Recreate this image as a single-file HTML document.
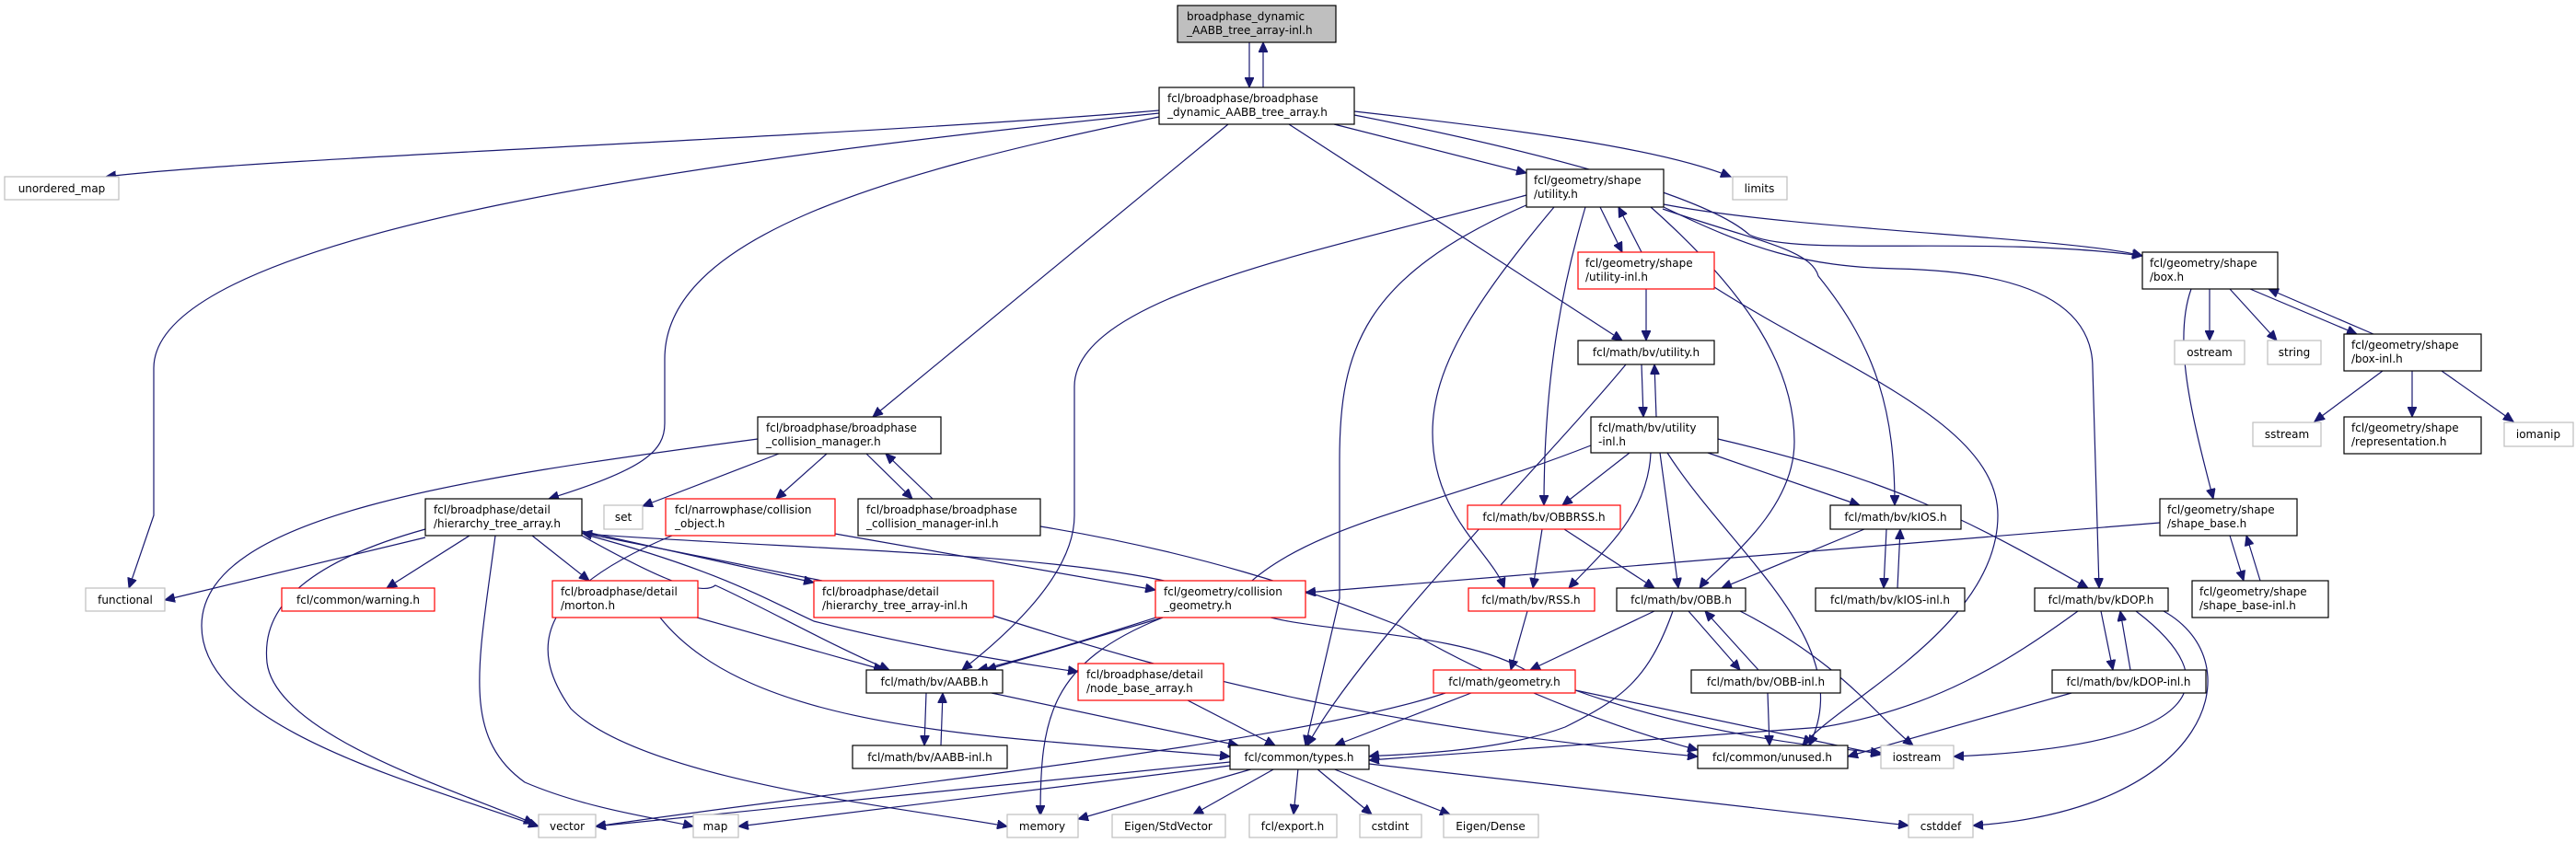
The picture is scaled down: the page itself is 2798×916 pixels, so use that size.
<!DOCTYPE html>
<html><head><meta charset="utf-8"><style>
html,body{margin:0;padding:0;background:#fff;}
svg{display:block;}
text{font-family:"DejaVu Sans","Liberation Sans",sans-serif;font-size:12px;fill:#000;}
.e{fill:none;stroke:#191970;stroke-width:1.2;marker-end:url(#a);}
.n{fill:#fff;stroke:#000;stroke-width:1.2;}
.r{fill:#fff;stroke:#ff0000;stroke-width:1.2;}
.g{fill:#fff;stroke:#bfbfbf;stroke-width:1.2;}
</style></head><body>
<svg width="2798" height="916" viewBox="0 0 2798 916" xmlns="http://www.w3.org/2000/svg">
<defs><marker id="a" markerUnits="userSpaceOnUse" markerWidth="12" markerHeight="10" refX="11" refY="5" orient="auto"><path d="M0,0 L11,5 L0,10 z" fill="#191970" stroke="#191970"/></marker></defs>

<!-- edges -->
<path class="e" d="M1357,46 L1357,95"/>
<path class="e" d="M1372,95 L1372,46"/>
<path class="e" d="M1259,120 C900,150 300,170 115,192"/>
<path class="e" d="M1259,123 C800,170 167,250 167,400 L167,560 L140,639"/>
<path class="e" d="M1259,127 C950,190 722,260 722,390 L722,460 C722,490 700,510 596,542"/>
<path class="e" d="M1334,135 L948,453"/>
<path class="e" d="M1400,135 L1762,370"/>
<path class="e" d="M1449,135 L1658,188"/>
<path class="e" d="M1471,121 C1640,140 1800,160 1880,192"/>
<path class="e" d="M1471,125 C1650,160 1850,210 1900,255 C1950,280 2150,255 2327,278"/>

<path class="e" d="M1658,212 C1450,270 1167,320 1167,420 L1167,560 C1167,630 1080,700 1045,728"/>
<path class="e" d="M1660,222 C1480,300 1455,380 1455,500 L1455,650 L1418,810"/>
<path class="e" d="M1722,225 C1700,300 1677,400 1677,549"/>
<path class="e" d="M1688,225 C1600,330 1556,400 1556,470 C1556,560 1620,600 1634,639"/>
<path class="e" d="M1738,225 L1762,274"/>
<path class="e" d="M1783,274 L1758,225"/>
<path class="e" d="M1793,225 C1900,320 1949,400 1949,480 C1949,560 1860,620 1846,639"/>
<path class="e" d="M1806,227 C1900,260 1967,270 1975,300 C2040,380 2058,450 2058,549"/>
<path class="e" d="M1807,225 C1900,270 1960,290 2060,292 C2200,295 2273,330 2273,400 L2280,639"/>
<path class="e" d="M1807,222 C1950,250 2250,258 2327,278"/>
<path class="e" d="M1862,312 C2000,400 2170,460 2170,560 C2170,680 2000,760 1958,810"/>
<path class="e" d="M1788,314 L1788,370"/>
<path class="e" d="M1783,396 L1785,453"/>
<path class="e" d="M1799,453 L1797,396"/>
<path class="e" d="M1766,396 C1680,500 1480,700 1420,810"/>

<path class="e" d="M1728,484 C1560,550 1420,570 1350,640 C1200,690 1100,720 1062,728"/>
<path class="e" d="M1770,492 L1697,549"/>
<path class="e" d="M1793,492 C1790,560 1740,600 1704,639"/>
<path class="e" d="M1803,492 L1823,639"/>
<path class="e" d="M1811,492 C1880,600 2020,700 1965,810"/>
<path class="e" d="M1855,492 L2020,549"/>
<path class="e" d="M1866,477 C2050,520 2130,560 2268,639"/>
<path class="e" d="M1675,575 L1665,639"/>
<path class="e" d="M1699,575 L1797,639"/>
<path class="e" d="M2025,575 L1870,639"/>
<path class="e" d="M2049,575 L2046,639"/>
<path class="e" d="M2061,639 L2064,575"/>
<path class="e" d="M2346,568 L1418,644"/>
<path class="e" d="M2422,582 L2437,631"/>
<path class="e" d="M2455,631 L2440,582"/>
<path class="e" d="M2380,314 C2360,370 2380,450 2404,542"/>
<path class="e" d="M2400,314 L2400,370"/>
<path class="e" d="M2422,314 L2473,370"/>
<path class="e" d="M2444,314 L2560,363"/>
<path class="e" d="M2578,363 L2464,314"/>
<path class="e" d="M2588,403 L2514,458"/>
<path class="e" d="M2620,403 L2620,453"/>
<path class="e" d="M2652,403 L2730,458"/>

<path class="e" d="M1797,664 L1662,728"/>
<path class="e" d="M1834,664 L1890,728"/>
<path class="e" d="M1910,728 L1852,664"/>
<path class="e" d="M1817,664 C1790,740 1760,760 1700,790 C1620,820 1500,820 1487,822"/>
<path class="e" d="M1890,664 C2000,720 2040,780 2078,810"/>
<path class="e" d="M1659,664 L1641,728"/>
<path class="e" d="M1598,753 L1450,810"/>
<path class="e" d="M1570,753 C1400,810 900,860 647,898"/>
<path class="e" d="M1711,750 L2043,820"/>
<path class="e" d="M1920,753 L1922,810"/>
<path class="e" d="M2282,664 L2295,728"/>
<path class="e" d="M2314,728 L2303,664"/>
<path class="e" d="M2257,664 C2180,720 2100,770 1980,790 L1487,826"/>
<path class="e" d="M2320,664 C2420,740 2400,810 2122,822"/>
<path class="e" d="M2350,664 C2450,720 2400,880 2143,897"/>
<path class="e" d="M2250,753 L2007,822"/>

<path class="e" d="M1336,828 L647,898"/>
<path class="e" d="M1336,832 L802,898"/>
<path class="e" d="M1362,835 L1171,890"/>
<path class="e" d="M1385,835 L1296,885"/>
<path class="e" d="M1410,835 L1405,885"/>
<path class="e" d="M1430,835 L1490,885"/>
<path class="e" d="M1447,835 L1575,885"/>
<path class="e" d="M1487,830 L2073,897"/>

<path class="e" d="M1077,753 L1345,810"/>
<path class="e" d="M1006,753 L1004,810"/>
<path class="e" d="M1022,810 L1024,753"/>
<path class="e" d="M1290,761 L1385,810"/>
<path class="e" d="M757,671 L960,728"/>
<path class="e" d="M717,671 C820,800 1100,800 1336,822"/>
<path class="e" d="M1079,669 C1300,740 1500,790 1844,822"/>

<path class="e" d="M462,584 L179,652"/>
<path class="e" d="M462,575 C300,620 286,680 290,720 C300,800 500,860 580,895"/>
<path class="e" d="M510,582 L420,639"/>
<path class="e" d="M538,582 C520,720 500,800 570,850 C640,880 720,890 753,898"/>
<path class="e" d="M578,582 L640,631"/>
<path class="e" d="M632,582 C700,620 760,650 777,636 C830,660 900,700 966,728"/>
<path class="e" d="M632,577 L884,633"/>
<path class="e" d="M893,631 L632,579"/>
<path class="e" d="M640,582 C780,620 830,650 884,675 C980,700 1100,720 1171,730"/>
<path class="e" d="M634,580 C900,600 1250,600 1350,660 C1400,690 1580,680 1660,730 C1800,790 1950,810 2043,818"/>
<path class="e" d="M823,477 C500,520 219,560 219,680 C219,790 450,850 585,898"/>
<path class="e" d="M846,493 L698,550"/>
<path class="e" d="M898,493 L843,542"/>
<path class="e" d="M941,493 L991,542"/>
<path class="e" d="M1013,542 L962,493"/>
<path class="e" d="M730,582 C590,640 570,700 620,770 C700,850 1000,880 1094,898"/>
<path class="e" d="M907,580 L1255,641"/>
<path class="e" d="M1130,572 C1300,600 1420,640 1520,680 C1620,740 1750,790 1844,815"/>
<path class="e" d="M1263,671 L1071,728"/>
<path class="e" d="M1263,671 C1140,720 1130,780 1130,886"/>

<!-- nodes -->
<rect x="1279" y="6" width="172" height="40" fill="#bfbfbf" stroke="#000" stroke-width="1.2"/>
<text x="1289" y="22">broadphase_dynamic</text><text x="1289" y="37">_AABB_tree_array-inl.h</text>

<rect class="n" x="1259" y="95" width="212" height="40"/>
<text x="1268" y="111">fcl/broadphase/broadphase</text><text x="1268" y="126">_dynamic_AABB_tree_array.h</text>

<rect class="g" x="5" y="192" width="124" height="25"/><text x="67" y="209" text-anchor="middle">unordered_map</text>
<rect class="g" x="1882" y="192" width="59" height="25"/><text x="1911" y="209" text-anchor="middle">limits</text>

<rect class="n" x="1658" y="184" width="149" height="41"/>
<text x="1666" y="200">fcl/geometry/shape</text><text x="1666" y="215">/utility.h</text>

<rect class="r" x="1714" y="274" width="148" height="40"/>
<text x="1722" y="290">fcl/geometry/shape</text><text x="1722" y="305">/utility-inl.h</text>

<rect class="n" x="2327" y="274" width="147" height="40"/>
<text x="2335" y="290">fcl/geometry/shape</text><text x="2335" y="305">/box.h</text>

<rect class="n" x="1714" y="370" width="148" height="26"/><text x="1788" y="387" text-anchor="middle">fcl/math/bv/utility.h</text>
<rect class="g" x="2362" y="370" width="76" height="26"/><text x="2400" y="387" text-anchor="middle">ostream</text>
<rect class="g" x="2463" y="370" width="58" height="26"/><text x="2492" y="387" text-anchor="middle">string</text>

<rect class="n" x="2546" y="363" width="149" height="40"/>
<text x="2554" y="379">fcl/geometry/shape</text><text x="2554" y="394">/box-inl.h</text>

<rect class="n" x="823" y="453" width="199" height="40"/>
<text x="832" y="469">fcl/broadphase/broadphase</text><text x="832" y="484">_collision_manager.h</text>

<rect class="n" x="1728" y="453" width="138" height="39"/>
<text x="1736" y="469">fcl/math/bv/utility</text><text x="1736" y="484">-inl.h</text>

<rect class="g" x="2447" y="459" width="74" height="26"/><text x="2484" y="476" text-anchor="middle">sstream</text>
<rect class="n" x="2546" y="453" width="149" height="40"/>
<text x="2554" y="469">fcl/geometry/shape</text><text x="2554" y="484">/representation.h</text>
<rect class="g" x="2720" y="459" width="75" height="26"/><text x="2757" y="476" text-anchor="middle">iomanip</text>

<rect class="n" x="462" y="542" width="170" height="40"/>
<text x="471" y="558">fcl/broadphase/detail</text><text x="471" y="573">/hierarchy_tree_array.h</text>
<rect class="g" x="656" y="549" width="42" height="26"/><text x="677" y="566" text-anchor="middle">set</text>
<rect class="r" x="723" y="542" width="184" height="40"/>
<text x="733" y="558">fcl/narrowphase/collision</text><text x="733" y="573">_object.h</text>
<rect class="n" x="932" y="542" width="198" height="40"/>
<text x="941" y="558">fcl/broadphase/broadphase</text><text x="941" y="573">_collision_manager-inl.h</text>

<rect class="r" x="1594" y="549" width="166" height="26"/><text x="1677" y="566" text-anchor="middle">fcl/math/bv/OBBRSS.h</text>
<rect class="n" x="1988" y="549" width="142" height="26"/><text x="2059" y="566" text-anchor="middle">fcl/math/bv/kIOS.h</text>
<rect class="n" x="2346" y="542" width="149" height="40"/>
<text x="2354" y="558">fcl/geometry/shape</text><text x="2354" y="573">/shape_base.h</text>

<rect class="g" x="93" y="639" width="86" height="25"/><text x="136" y="656" text-anchor="middle">functional</text>
<rect class="r" x="306" y="639" width="166" height="25"/><text x="389" y="656" text-anchor="middle">fcl/common/warning.h</text>
<rect class="r" x="600" y="631" width="158" height="40"/>
<text x="609" y="647">fcl/broadphase/detail</text><text x="609" y="662">/morton.h</text>
<rect class="r" x="884" y="631" width="195" height="40"/>
<text x="893" y="647">fcl/broadphase/detail</text><text x="893" y="662">/hierarchy_tree_array-inl.h</text>
<rect class="r" x="1255" y="631" width="163" height="40"/>
<text x="1264" y="647">fcl/geometry/collision</text><text x="1264" y="662">_geometry.h</text>

<rect class="r" x="1595" y="639" width="137" height="25"/><text x="1663" y="656" text-anchor="middle">fcl/math/bv/RSS.h</text>
<rect class="n" x="1756" y="639" width="140" height="25"/><text x="1826" y="656" text-anchor="middle">fcl/math/bv/OBB.h</text>
<rect class="n" x="1972" y="639" width="162" height="25"/><text x="2053" y="656" text-anchor="middle">fcl/math/bv/kIOS-inl.h</text>
<rect class="n" x="2210" y="639" width="145" height="25"/><text x="2282" y="656" text-anchor="middle">fcl/math/bv/kDOP.h</text>
<rect class="n" x="2381" y="631" width="148" height="40"/>
<text x="2389" y="647">fcl/geometry/shape</text><text x="2389" y="662">/shape_base-inl.h</text>

<rect class="n" x="941" y="728" width="148" height="25"/><text x="1015" y="745" text-anchor="middle">fcl/math/bv/AABB.h</text>
<rect class="r" x="1171" y="721" width="158" height="40"/>
<text x="1180" y="737">fcl/broadphase/detail</text><text x="1180" y="752">/node_base_array.h</text>
<rect class="r" x="1557" y="728" width="154" height="25"/><text x="1634" y="745" text-anchor="middle">fcl/math/geometry.h</text>
<rect class="n" x="1837" y="728" width="162" height="25"/><text x="1918" y="745" text-anchor="middle">fcl/math/bv/OBB-inl.h</text>
<rect class="n" x="2229" y="728" width="167" height="25"/><text x="2312" y="745" text-anchor="middle">fcl/math/bv/kDOP-inl.h</text>

<rect class="n" x="926" y="810" width="168" height="25"/><text x="1010" y="827" text-anchor="middle">fcl/math/bv/AABB-inl.h</text>
<rect class="n" x="1336" y="810" width="151" height="26"/><text x="1411" y="827" text-anchor="middle">fcl/common/types.h</text>
<rect class="n" x="1844" y="810" width="163" height="25"/><text x="1925" y="827" text-anchor="middle">fcl/common/unused.h</text>
<rect class="g" x="2043" y="810" width="79" height="25"/><text x="2082" y="827" text-anchor="middle">iostream</text>

<rect class="g" x="585" y="885" width="62" height="25"/><text x="616" y="902" text-anchor="middle">vector</text>
<rect class="g" x="753" y="885" width="49" height="25"/><text x="777" y="902" text-anchor="middle">map</text>
<rect class="g" x="1094" y="885" width="77" height="25"/><text x="1132" y="902" text-anchor="middle">memory</text>
<rect class="g" x="1208" y="885" width="123" height="25"/><text x="1269" y="902" text-anchor="middle">Eigen/StdVector</text>
<rect class="g" x="1357" y="885" width="95" height="25"/><text x="1404" y="902" text-anchor="middle">fcl/export.h</text>
<rect class="g" x="1477" y="885" width="67" height="25"/><text x="1510" y="902" text-anchor="middle">cstdint</text>
<rect class="g" x="1568" y="885" width="103" height="25"/><text x="1619" y="902" text-anchor="middle">Eigen/Dense</text>
<rect class="g" x="2073" y="885" width="70" height="25"/><text x="2108" y="902" text-anchor="middle">cstddef</text>
</svg>
</body></html>
